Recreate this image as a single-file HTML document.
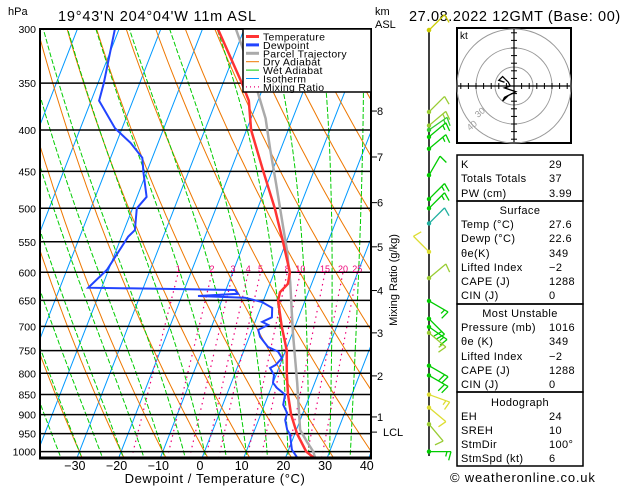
<!DOCTYPE html>
<html><head><meta charset="utf-8"><style>
html,body{margin:0;padding:0;background:#fff;}
svg{display:block;font-family:"Liberation Sans",sans-serif;}
</style></head><body>
<svg id="chart" width="629" height="486" viewBox="0 0 629 486" xmlns="http://www.w3.org/2000/svg">
<defs><clipPath id="plotclip"><rect x="40" y="29" width="331" height="429"/></clipPath></defs>
<rect x="0" y="0" width="629" height="486" fill="#fff"/>
<g id="bg" clip-path="url(#plotclip)"></g>
<g id="plines"></g>
<g id="mrlabels"></g>
<g id="series" clip-path="url(#plotclip)"></g>
<rect x="40" y="29" width="331" height="429" fill="none" stroke="#000" stroke-width="2"/>
<line x1="39" y1="458" x2="372" y2="458" stroke="#000" stroke-width="3"/>
<text x="8" y="15" font-size="11">hPa</text>
<text x="58" y="21" font-size="14.5" letter-spacing="0.8">19°43'N  204°04'W  11m  ASL</text>
<text x="375" y="15" font-size="11">km</text>
<text x="375" y="28" font-size="11">ASL</text>
<text x="409" y="21" font-size="14.5" letter-spacing="0.6">27.08.2022  12GMT  (Base: 00)</text>
<g id="yaxis"></g>
<g id="xaxis"></g>
<text x="215" y="483" font-size="13" text-anchor="middle" letter-spacing="0.6">Dewpoint / Temperature (°C)</text>
<g id="kmaxis"></g>
<text transform="translate(397,280) rotate(-90)" font-size="11" text-anchor="middle">Mixing Ratio (g/kg)</text>
<g id="legend">
<rect x="243" y="29" width="128" height="63" fill="#fff" stroke="#000" stroke-width="1.5"/>
</g>
<g id="barbs"><line x1="429" y1="29" x2="429" y2="456" stroke="#000" stroke-width="1.5"/></g>
<g id="hodo"></g>
<g id="table"></g>
<text x="450" y="482" font-size="13" letter-spacing="0.8">© weatheronline.co.uk</text>
</svg>
<script>
// ---- data ----
const tempP=[300,350,368,400,450,500,550,600,620,635,650,700,750,800,850,900,950,1000,1016];
const tempT=[-36.3,-25.5,-22.2,-18.9,-12.1,-5.9,-0.8,3.7,4.3,3.2,3.5,6.8,10.3,12.4,14.7,17.3,20.5,24.4,26.6];
const dewP=[300,350,368,398,415,433,452,484,500,532,542,596,627,631,638,642,645,653,664,682,691,697,707,721,742,752,766,781,788,804,822,834,850,875,896,914,940,952,995,1016];
const dewT=[-61,-58.6,-58.1,-51.7,-46.6,-42.4,-40.7,-37.7,-39,-37.4,-38.4,-40.4,-43.2,-7.8,-6.7,-16.1,-4.7,-0.2,2.8,3.6,1.7,3.4,1.5,2.6,5.4,8.3,9.8,9.0,7.9,9.5,10,11.4,14,14.5,16.2,16.4,17.8,18.9,20.8,22.7];
const parcelP=[300,330,360,387,423,467,509,563,617,713,822,940,973,1000,1016];
const parcelT=[-32,-26,-20.7,-16.5,-12.5,-7.8,-3.8,0.9,4.7,10.1,15.8,20.9,23.7,26.1,27.0];
const pressureTicks=[300,350,400,450,500,550,600,650,700,750,800,850,900,950,1000];
const tempTicks=[-30,-20,-10,0,10,20,30,40];
const kmLabels=["8","7","6","5","4","3","2","1","LCL"];
const kmP=[379,432,492,558,632,713,806,906,946];
const mixRatios=[1,2,3,4,5,8,10,15,20,25];
const barbP=[301,380,395,400,408,422,455,487,500,522,566,610,651,685,701,713,783,805,850,882,925,1000];
const barbAng=[45,45,40,35,40,40,60,45,45,45,135,40,-30,-45,-35,-40,-30,-30,-20,-40,-50,0];
const barbSpd=[10,10,15,15,15,15,10,15,15,10,10,10,15,20,15,15,20,20,15,10,10,15];
const barbCol=["#cccc00","#99cc33","#99cc33","#33cc33","#00cc00","#00cc00","#00cc00","#00cc00","#00cc00","#20b0a0","#dddd33","#99cc33","#00cc00","#00cc00","#00cc00","#99cc33","#00cc00","#00cc00","#dddd33","#dddd33","#99cc33","#00cc00"];
const hodoU=[-5,-8,-6,-3,-2,-5,1,-5,-6,-3];
const hodoV=[2,3,5,2,0,-1,-3,-6,-8,-5];
const tableRows=[["K","29",164],["Totals Totals","37",178],["PW (cm)","3.99",193],
["Temp (°C)","27.6",224],["Dewp (°C)","22.6",238],["θe(K)","349",253],["Lifted Index","−2",267],["CAPE (J)","1288",281],["CIN (J)","0",295],
["Pressure (mb)","1016",327],["θe (K)","349",341],["Lifted Index","−2",356],["CAPE (J)","1288",370],["CIN (J)","0",384],
["EH","24",416],["SREH","10",430],["StmDir","100°",444],["StmSpd (kt)","6",458]];

// ---- axes ----
const NS="http://www.w3.org/2000/svg";
function Y(p){return 29+351*Math.log(p/300);}
function X(T,p){return 202+4.17*T+0.39*(458-Y(p));}
function el(tag,attrs,parent){const e=document.createElementNS(NS,tag);for(const k in attrs)e.setAttribute(k,attrs[k]);parent.appendChild(e);return e;}
function poly(ps,ts,parent,attrs){let d="";for(let i=0;i<ps.length;i++){d+=(i?"L":"M")+X(ts[i],ps[i]).toFixed(1)+","+Y(ps[i]).toFixed(1);}return el("path",Object.assign({d:d,fill:"none"},attrs),parent);}
const bg=document.getElementById("bg");
for(let t=-120;t<=40;t+=10){const l=el("line",{x1:X(t,1050),y1:Y(1050),x2:X(t,280),y2:Y(280),stroke:"#0099ff","stroke-width":1},bg);

}
const ps=[];for(let p=1050;p>=280;p-=10)ps.push(p);
for(let th=-60;th<=160;th+=10){const ts=ps.map(p=>(th+273.15)*Math.pow(p/1000,0.286)-273.15);
const l=poly(ps,ts,bg,{stroke:"#ee7700","stroke-width":1});

}
function es(t){return 6.112*Math.exp(17.67*t/(t+243.5));}
function moist(t0){const pp=[],tt=[];let T=t0,p=1000;let Tb=T;
 for(p=1000;p>=280;p-=5){pp.push(p);tt.push(T);const Tk=T+273.15;const e=es(T);const rs=0.622*e/(p-e);
  const g=(287*Tk+2.5e6*rs)/(1005+(2.5e6*2.5e6*rs*0.622)/(287*Tk*Tk));T-=g*Math.log(p/(p-5));}
 const Tk=Tb+273.15,e=es(Tb),rs=0.622*e/(1000-e);const g=(287*Tk+2.5e6*rs)/(1005+(2.5e6*2.5e6*rs*0.622)/(287*Tk*Tk));
 pp.unshift(1050);tt.unshift(Tb+g*Math.log(1050/1000));return [pp,tt];}
for(let t=-40;t<=40;t+=5){const m=moist(t);const l=poly(m[0],m[1],bg,{stroke:"#00cc00","stroke-width":1,"stroke-dasharray":"5,2"});

}
function tdw(w,p){const e=w*p/(622+w);const a=Math.log(e/6.112);return 243.5*a/(17.67-a);}
const mrl=document.getElementById("mrlabels");
mixRatios.forEach(w=>{const pp=[1050,600];const l=poly(pp,pp.map(p=>tdw(w,p)),bg,{stroke:"#ee0077","stroke-width":1.2,"stroke-dasharray":"1.5,4"});


const t=el("text",{x:X(tdw(w,600),600),y:272,"font-size":9,fill:"#ee0077","text-anchor":"middle"},mrl);t.textContent=w;

});
const pl=document.getElementById("plines"),ya=document.getElementById("yaxis");
pressureTicks.forEach(p=>{const y=Y(p);
 if(p>300){const l=el("line",{x1:40,x2:371,y1:y,y2:y,stroke:"#000","stroke-width":1.5},pl);
 
 }
 const t=el("text",{x:36,y:y+4,"font-size":10.5,"text-anchor":"end"},ya);t.textContent=p;
 
 });
const xa=document.getElementById("xaxis");
tempTicks.forEach(t=>{const x=200+4.17*t;const tx=el("text",{x:x,y:470,"font-size":12.5,"text-anchor":"middle"},xa);tx.textContent=t<0?"−"+(-t):t;

});
const ka=document.getElementById("kmaxis");
kmLabels.forEach((k,i)=>{const y=Y(kmP[i]);el("line",{x1:371,x2:377,y1:y,y2:y,stroke:"#000","stroke-width":1},ka);
const t=el("text",{x:k=="LCL"?383:377,y:y+4,"font-size":11},ka);t.textContent=k;

});
const sg=document.getElementById("series");
const pa=poly(parcelP,parcelT,sg,{stroke:"#aaaaaa","stroke-width":2.5});


const te=poly(tempP,tempT,sg,{stroke:"#ff3333","stroke-width":2.5});


const dw=poly(dewP,dewT,sg,{stroke:"#2244ff","stroke-width":2});


const lg=document.getElementById("legend");
const legItems=[["Temperature","#ff3333",3,""],["Dewpoint","#2244ff",3,""],["Parcel Trajectory","#aaaaaa",3,""],["Dry Adiabat","#ee7700",1,""],["Wet Adiabat","#00cc00",1,""],["Isotherm","#0099ff",1,""],["Mixing Ratio","#ee0077",1.2,"1,3"]];
legItems.forEach((it,i)=>{const y=36.5+i*8.4;
 const l=el("line",{x1:246,x2:259,y1:y,y2:y,stroke:it[1],"stroke-width":it[2]},lg);if(it[3])l.setAttribute("stroke-dasharray",it[3]);
 const t=el("text",{x:263,y:y+4,"font-size":10.5,"letter-spacing":"0.3"},lg);t.textContent=it[0];
 
 });
const bb=document.getElementById("barbs");
barbP.forEach((p,i)=>{const y=Y(p),x=429,a=barbAng[i]*Math.PI/180,c=barbCol[i];
 const tx=x+22*Math.cos(a),ty=y-22*Math.sin(a);
 const g=el("g",{},bb);
 
 
 el("line",{x1:x,y1:y,x2:tx,y2:ty,stroke:c,"stroke-width":1.3},g);
 el("circle",{cx:x,cy:y,r:2.2,fill:c},g);
 let s=barbSpd[i],k=0;const ba=a-105*Math.PI/180;
 while(s>=5){const len=s>=10?9:5;const bx=tx-k*4*Math.cos(a),by=ty+k*4*Math.sin(a);
  el("line",{x1:bx,y1:by,x2:bx+len*Math.cos(ba),y2:by-len*Math.sin(ba),stroke:c,"stroke-width":1.3},g);s-=s>=10?10:5;k++;}
});
el("circle",{cx:429,cy:30,r:2.2,fill:"#cccc00"},bb);
const hg=document.getElementById("hodo");const cx=514,cy=86,sc=1.9;
el("rect",{x:457,y:28,width:114,height:115,fill:"#fff",stroke:"#000","stroke-width":2},hg);
[10,20,30].forEach(r=>el("circle",{cx:cx,cy:cy,r:r*sc,fill:"none",stroke:"#999","stroke-width":1},hg));
el("line",{x1:458,x2:570,y1:cy,y2:cy,stroke:"#000","stroke-width":1.2},hg);
el("line",{x1:cx,x2:cx,y1:29,y2:142,stroke:"#000","stroke-width":1.2},hg);
for(let d=-28;d<=28;d+=4){if(!d)continue;el("line",{x1:cx+d*sc,x2:cx+d*sc,y1:cy-3,y2:cy+3,stroke:"#000"},hg);el("line",{y1:cy+d*sc,y2:cy+d*sc,x1:cx-3,x2:cx+3,stroke:"#000"},hg);}
const kt=el("text",{x:460,y:39,"font-size":10},hg);kt.textContent="kt";
const h1=el("text",{x:478,y:118,"font-size":9,fill:"#999",transform:"rotate(-40 478 118)"},hg);h1.textContent="30";
const h2=el("text",{x:470,y:131,"font-size":9,fill:"#999",transform:"rotate(-40 470 131)"},hg);h2.textContent="40";
let hd="";hodoU.forEach((u,i)=>{hd+=(i?"L":"M")+(cx+u*sc)+","+(cy-hodoV[i]*sc);});
const hp=el("path",{d:hd,fill:"none",stroke:"#000","stroke-width":1.3},hg);


const tb=document.getElementById("table");
[[155,201],[201,304],[304,392],[392,466]].forEach(b=>el("rect",{x:457,y:b[0],width:126,height:b[1]-b[0],fill:"none",stroke:"#000","stroke-width":1.5},tb));
[["Surface",210],["Most Unstable",313],["Hodograph",402]].forEach(h=>{const t=el("text",{x:520,y:h[1]+4,"font-size":11,"text-anchor":"middle","letter-spacing":"0.4"},tb);t.textContent=h[0];

});
tableRows.forEach(r=>{const a=el("text",{x:461,y:r[2]+4,"font-size":11,"letter-spacing":"0.4"},tb);a.textContent=r[0];


const b=el("text",{x:549,y:r[2]+4,"font-size":11,"letter-spacing":"0.4"},tb);b.textContent=r[1];

});
</script>
</body></html>
